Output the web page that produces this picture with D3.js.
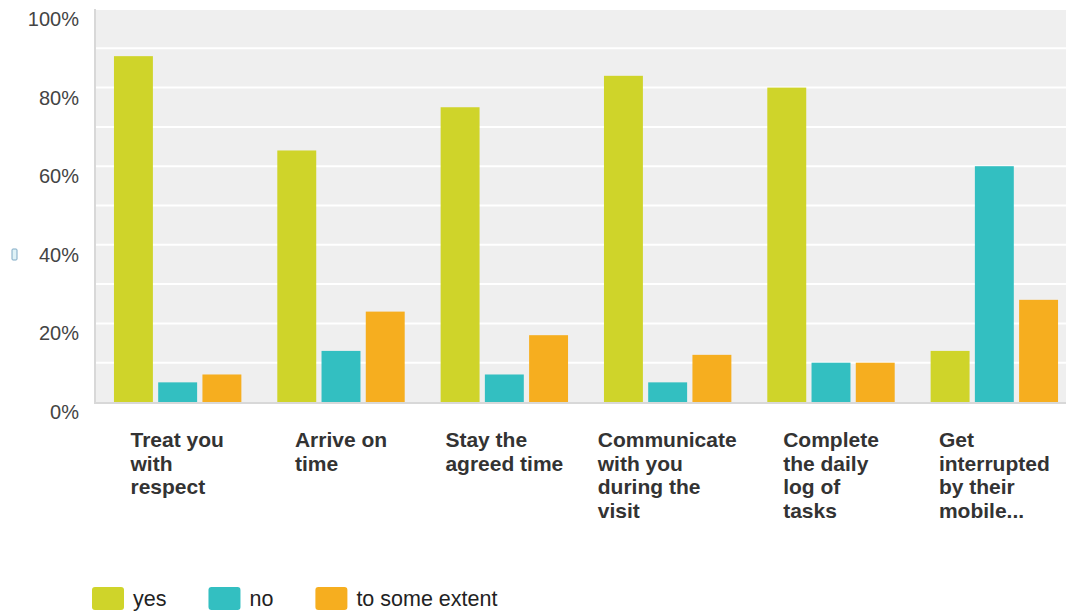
<!DOCTYPE html>
<html>
<head>
<meta charset="utf-8">
<script src="https://cdn.jsdelivr.net/npm/d3@7"></script>
<style>
  body { margin: 0; background: #fff; }
  svg { display: block; font-family: 'Liberation Sans', Arial, sans-serif; }
</style>
</head>
<body>
<svg id="chart" width="1066" height="613"></svg>
<script>
// Chart data
const categories = [
  ['Treat you', 'with', 'respect'],
  ['Arrive on', 'time'],
  ['Stay the', 'agreed time'],
  ['Communicate', 'with you', 'during the', 'visit'],
  ['Complete', 'the daily', 'log of', 'tasks'],
  ['Get', 'interrupted', 'by their', 'mobile...']
];
const seriesNames = ['yes', 'no', 'to some extent'];
const yesValues = [88, 64, 75, 83, 80, 13];
const noValues = [5, 13, 7, 5, 10, 60];
const someValues = [7, 23, 17, 12, 10, 26];
const yTicks = [0, 20, 40, 60, 80, 100];
const colors = ['#cfd42a', '#33bfc1', '#f6ae1f'];

const svg = d3.select('#chart');
const W = 1066;
const plot = {left: 96, top: 9, bottom: 402, right: 1076};

const x0 = d3.scaleBand()
  .domain(d3.range(categories.length))
  .range([plot.left, plot.right])
  .paddingInner(0.22)
  .paddingOuter(0.11);

const x1 = d3.scaleBand()
  .domain(d3.range(seriesNames.length))
  .range([0, x0.bandwidth()])
  .paddingInner(0.12);

const y = d3.scaleLinear()
  .domain([0, 100])
  .range([plot.bottom, plot.top]);

// Background
svg.append('rect')
  .attr('x', plot.left)
  .attr('y', plot.top)
  .attr('width', W - plot.left)
  .attr('height', plot.bottom - plot.top)
  .style('fill', '#efefef');

// Gridlines every 10%
svg.append('g')
  .selectAll('line')
  .data(d3.range(10, 101, 10))
  .join('line')
  .attr('x1', plot.left)
  .attr('x2', W)
  .attr('y1', d => y(d))
  .attr('y2', d => y(d))
  .style('stroke', '#ffffff')
  .style('stroke-width', 2);

// Bars
const rows = categories.map((c, i) => [yesValues[i], noValues[i], someValues[i]]);
const groups = svg.append('g')
  .selectAll('g')
  .data(rows)
  .join('g')
  .attr('transform', (d, i) => `translate(${x0(i)}, 0)`);

groups.selectAll('rect')
  .data(d => d)
  .join('rect')
  .attr('x', (d, j) => x1(j))
  .attr('y', d => y(d))
  .attr('width', x1.bandwidth())
  .attr('height', d => plot.bottom - y(d))
  .style('fill', (d, j) => colors[j]);

// Axis lines
svg.append('line')
  .attr('x1', plot.left - 1).attr('x2', plot.left - 1)
  .attr('y1', plot.top).attr('y2', plot.bottom + 1)
  .style('stroke', '#d8d8d8').style('stroke-width', 2);
svg.append('line')
  .attr('x1', plot.left - 2).attr('x2', W)
  .attr('y1', plot.bottom + 1).attr('y2', plot.bottom + 1)
  .style('stroke', '#d8d8d8').style('stroke-width', 2);

// Y tick labels
svg.append('g')
  .selectAll('text')
  .data(yTicks)
  .join('text')
  .attr('x', 79)
  .attr('y', d => y(d) + 17)
  .style('text-anchor', 'end')
  .style('font-size', '20px')
  .style('fill', '#444')
  .text(d => `${d}%`);

// Clipped axis-title remnant at far left
svg.append('rect')
  .attr('x', 12).attr('y', 249)
  .attr('width', 5).attr('height', 11)
  .attr('rx', 1)
  .style('fill', '#dff2f7')
  .style('stroke', '#7fa9c4')
  .style('stroke-width', 1);

// Category labels: left aligned lines, block centred on the group
const labelGroup = svg.append('g');
categories.forEach((lines, i) => {
  const t = labelGroup.append('text')
    .style('font-size', '21px')
    .style('font-weight', 'bold')
    .style('fill', '#333');
  lines.forEach((line, k) => {
    t.append('tspan')
      .attr('x', 0)
      .attr('y', 447 + k * 23.7)
      .text(line);
  });
  const w = t.node().getBBox().width;
  const left = x0(i) + x0.bandwidth() / 2 - w / 2;
  t.attr('transform', `translate(${left}, 0)`);
});

// Legend
const legend = svg.append('g').attr('transform', 'translate(92, 587)');
let lx = 0;
seriesNames.forEach((name, j) => {
  const item = legend.append('g').attr('transform', `translate(${lx}, 0)`);
  item.append('rect')
    .attr('width', 32)
    .attr('height', 23)
    .attr('rx', 3)
    .style('fill', colors[j]);
  const txt = item.append('text')
    .attr('x', 41)
    .attr('y', 19)
    .style('font-size', '21.5px')
    .style('fill', '#222')
    .text(name);
  lx += 41 + txt.node().getComputedTextLength() + 42;
});
</script>
</body>
</html>
